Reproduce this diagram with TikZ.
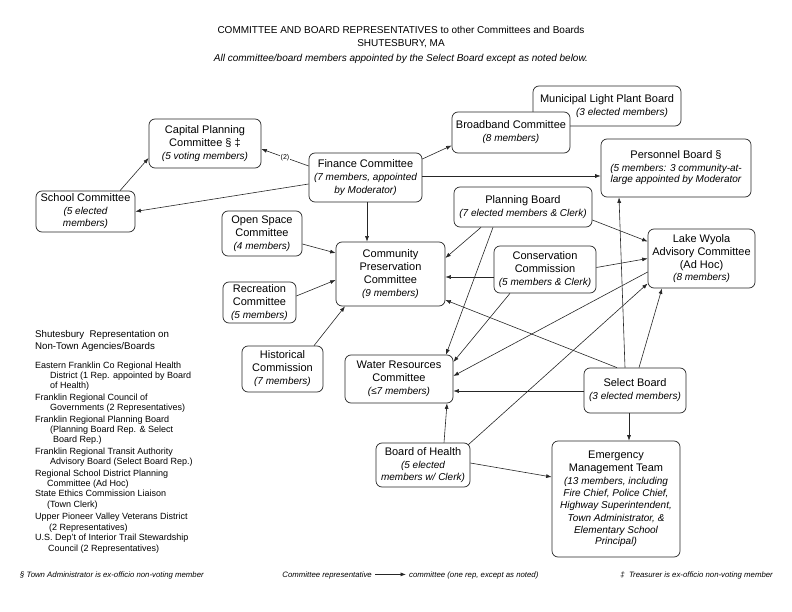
\documentclass[tikz,border=0pt]{standalone}
\usepackage{fontspec}
\setmainfont{Liberation Sans}
\usetikzlibrary{arrows.meta,calc}

\newcommand{\memb}[1]{{\fontsize{10}{12}\selectfont\itshape #1}}

\begin{document}
\begin{tikzpicture}[x=1pt,y=-1pt,
    board/.style={draw=black!85, line width=0.7pt, rounded corners=6pt, fill=white,
        align=center, inner sep=1pt, font=\fontsize{11}{13}\selectfont},
    rep/.style={draw=black!85, line width=0.6pt, -{Latex[length=5.5pt,width=4pt]}},
    lbl/.style={midway, fill=white, inner sep=1pt, font=\fontsize{7}{8}\selectfont},
    listtext/.style={anchor=base west, inner sep=0pt, font=\fontsize{9}{10}\selectfont},
    note/.style={inner sep=0pt, font=\fontsize{7.8}{9}\selectfont\itshape}]

    \useasboundingbox (0,0) rectangle (792,612);

    % title
    \node[anchor=base, inner sep=0pt, font=\fontsize{10}{12}\selectfont] (title) at (401,33.6)
        {COMMITTEE AND BOARD REPRESENTATIVES to other Committees and Boards};
    \node[anchor=base, inner sep=0pt, font=\fontsize{10}{12}\selectfont] (town) at (401,46.6) {SHUTESBURY, MA};
    \node[anchor=base, inner sep=0pt, font=\fontsize{10}{12}\selectfont\itshape] (subtitle) at (401,61.4)
        {All committee/board members appointed by the Select Board except as noted below.};

    % committees and boards
    \node[board, minimum width=148pt, minimum height=40pt] (light) at (607,106)
        {Municipal Light Plant Board\\ \hspace*{30pt}\memb{(3 elected members)}};
    \node[board, minimum width=118pt, minimum height=41pt] (broad) at (511,132.5)
        {Broadband Committee\\ \memb{(8 members)}};
    \node[board, minimum width=112pt, minimum height=49pt] (cap) at (205,143.5)
        {Capital Planning\\Committee § ‡\\ \memb{(5 voting members)}};
    \node[board, minimum width=99pt, minimum height=41pt] (school) at (85.5,211.5)
        {School Committee\\ \memb{(5 elected}\\[-1pt] \memb{members)}};
    \node[board, minimum width=113pt, minimum height=49pt] (fin) at (365.5,177.5)
        {Finance Committee\\ \memb{(7 members, appointed}\\[-0.5pt] \memb{by Moderator)}};
    \node[board, minimum width=150pt, minimum height=58pt] (pers) at (676,168)
        {Personnel Board §\\ \memb{(5 members: 3 community-at-}\\[-2pt] \memb{large appointed by Moderator}};
    \node[board, minimum width=138pt, minimum height=40pt] (plan) at (523,207)
        {Planning Board\\ \memb{(7 elected members \& Clerk)}};
    \node[board, minimum width=80pt, minimum height=45pt] (open) at (262,233.5)
        {Open Space\\Committee\\ \memb{(4 members)}};
    \node[board, minimum width=109pt, minimum height=64pt] (cpc) at (390.5,274)
        {Community\\Preservation\\Committee\\ \memb{(9 members)}};
    \node[board, minimum width=102pt, minimum height=47pt] (cons) at (545,269.5)
        {Conservation\\Commission\\ \memb{(5 members \& Clerk)}};
    \node[board, minimum width=73pt, minimum height=41pt] (rec) at (259.5,302.5)
        {Recreation\\Committee\\ \memb{(5 members)}};
    \node[board, minimum width=107pt, minimum height=59pt] (lake) at (701.5,258.5)
        {Lake Wyola\\Advisory Committee\\(Ad Hoc)\\[-1.5pt] \memb{(8 members)}};
    \node[board, minimum width=81pt, minimum height=46pt] (hist) at (282.5,369)
        {Historical\\Commission\\ \memb{(7 members)}};
    \node[board, minimum width=108pt, minimum height=48pt] (water) at (399,379)
        {Water Resources\\Committee\\ \memb{(≤7 members)}};
    \node[board, minimum width=94pt, minimum height=44pt] (health) at (423,465)
        {Board of Health\\ \memb{(5 elected}\\[-1pt] \memb{members w/ Clerk)}};
    \node[board, minimum width=102pt, minimum height=45pt] (select) at (635,390.5)
        {Select Board\\ \memb{(3 elected members)}};
    \node[board, minimum width=128pt, minimum height=116pt] (emt) at (616,499)
        {Emergency\\Management Team\\ \memb{(13 members, including}\\[-0.5pt]
         \memb{Fire Chief, Police Chief,}\\[-1pt] \memb{Highway Superintendent,}\\[-1pt]
         \memb{Town Administrator, \&}\\[-1pt] \memb{Elementary School}\\[-1pt] \memb{Principal)}};

    % representatives
    \draw[rep] ($(fin.west)+(0,-11.5)$) -- node[lbl] {(2)} ($(cap.east)+(0,5.5)$);
    \draw[rep] ($(fin.west)+(0,6.5)$) -- (school.east);
    \draw[rep] ($(school.north)+(34.5,0)$) -- ($(cap.west)+(0,14.5)$);
    \draw[rep] ($(fin.east)+(0,-18.5)$) -- ($(broad.west)+(0,13)$);
    \draw[rep] ($(fin.east)+(0,-1.5)$) -- ($(pers.west)+(0,8)$);
    \draw[rep] ($(fin.south)+(1.5,0)$) -- ($(cpc.north)+(-23.5,0)$);
    \draw[rep] ($(open.east)+(0,10.5)$) -- ($(cpc.west)+(0,-21)$);
    \draw[rep] ($(rec.east)+(0,-6.5)$) -- ($(cpc.west)+(0,6)$);
    \draw[rep] ($(hist.north)+(31.5,0)$) -- ($(cpc.south)+(-45.5,0)$);
    \draw[rep] ($(plan.south)+(-42,0)$) -- ($(cpc.east)+(0,-16)$);
    \draw[rep] ($(plan.south)+(-30,0)$) -- ($(water.north)+(47,0)$);
    \draw[rep] ($(plan.east)+(0,13)$) -- ($(lake.west)+(0,-17)$);
    \draw[rep] ($(cons.west)+(0,7.5)$) -- ($(cpc.east)+(0,3)$);
    \draw[rep] ($(cons.east)+(0,-2)$) -- (lake.west);
    \draw[rep] ($(cons.south)+(-35,0)$) -- ($(water.east)+(0,-17)$);
    \draw[rep] ($(lake.west)+(0,13.5)$) -- ($(water.east)+(0,-3)$);
    \draw[rep] ($(select.north)+(-18,0)$) -- ($(cpc.east)+(0,26)$);
    \draw[rep] ($(select.north)+(-10,0)$) -- ($(pers.south)+(-57,0)$);
    \draw[rep] ($(select.north)+(4,0)$) -- ($(lake.south)+(-39.5,0)$);
    \draw[rep] ($(select.west)+(0,0.5)$) -- ($(water.east)+(0,12)$);
    \draw[rep] ($(select.south)+(-6,0)$) -- ($(emt.north)+(13,0)$);
    \draw[rep] ($(health.north)+(21,0)$) -- ($(water.south)+(48,0)$);
    \draw[rep] ($(health.north east)+(-2,2)$) -- ($(lake.west)+(0,25)$);
    \draw[rep] ($(health.east)+(0,-2)$) -- ($(emt.west)+(0,-22)$);

    % non-town agencies
    \node[listtext, font=\fontsize{9.7}{11}\selectfont] (head1) at (35,337.4) {Shutesbury\ \ Representation on};
    \node[listtext, font=\fontsize{9.7}{11}\selectfont] (head2) at (35,349.6) {Non-Town Agencies/Boards};
    \foreach \ind/\yy/\txt [count=\i] in {
        0/368.2/{Eastern Franklin Co Regional Health},
        15/378.9/{District (1 Rep. appointed by Board},
        15/388.9/{of Health)},
        0/400.9/{Franklin Regional Council of},
        15/410.9/{Governments (2 Representatives)},
        0/422.2/{Franklin Regional Planning Board},
        15/432.2/{(Planning Board Rep. \& Select},
        18/442.2/{Board Rep.)},
        0/454.2/{Franklin Regional Transit Authority},
        15/464.9/{Advisory Board (Select Board Rep.)},
        0/476.2/{Regional School District Planning},
        12/486.2/{Committee (Ad Hoc)},
        0/496.9/{State Ethics Commission Liaison},
        12/507.5/{(Town Clerk)},
        0/519.5/{Upper Pioneer Valley Veterans District},
        14/530.2/{(2 Representatives)},
        0/540.9/{U.S. Dep't of Interior Trail Stewardship},
        13/551.5/{Council (2 Representatives)}}
        \node[listtext] (agency\i) at (35+\ind,\yy) {\txt};

    % footer
    \node[note, anchor=base west] (admin) at (20,577) {§ Town Administrator is ex-officio non-voting member};
    \node[note, anchor=base east] (legfrom) at (372,577) {Committee representative};
    \node[note, anchor=base west] (legto) at (409,577) {committee (one rep, except as noted)};
    \node[note, anchor=base east] (treas) at (773,577) {‡\ \ Treasurer is ex-officio non-voting member};
    \draw[rep] ($(legfrom.base east)+(3,-2.6)$) -- ($(legto.base west)+(-3,-2.6)$);
\end{tikzpicture}
\end{document}
